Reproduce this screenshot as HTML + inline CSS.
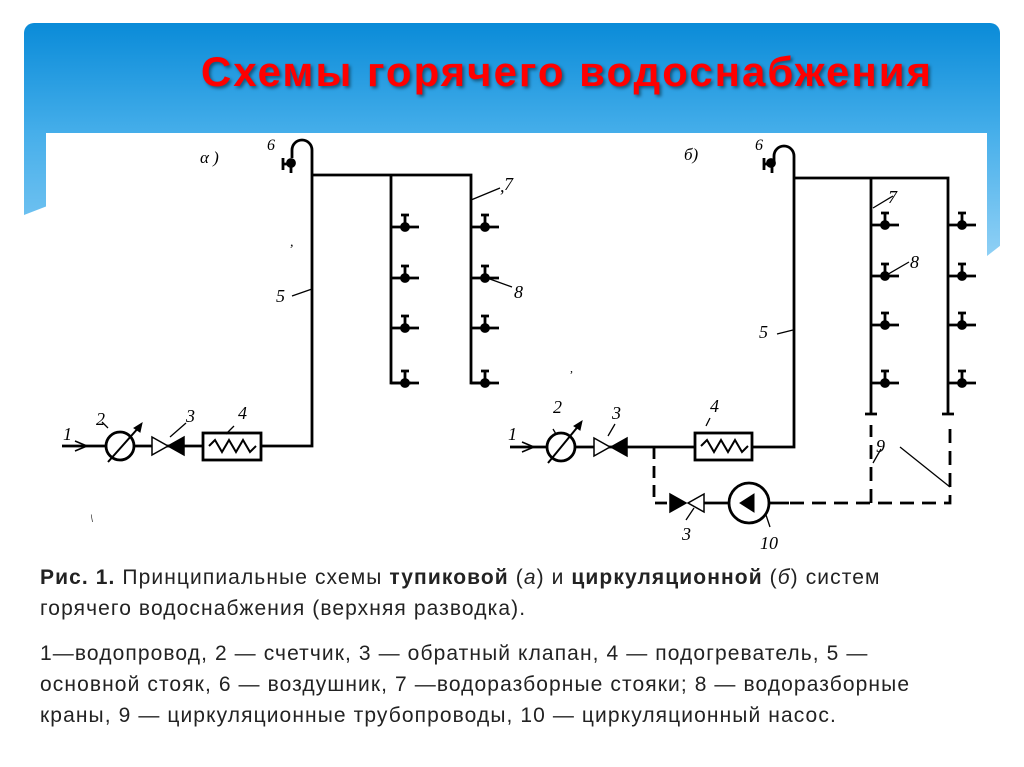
<!DOCTYPE html>
<html><head><meta charset="utf-8"><style>
body{margin:0;width:1024px;height:767px;background:#fff;position:relative;overflow:hidden;font-family:"Liberation Sans","DejaVu Sans",sans-serif}
.bar{position:absolute;left:24px;top:23px;width:976px;height:110px;border-radius:10px 10px 0 0;background:linear-gradient(#0a8bd8,#45aeea)}
.ls{position:absolute;left:24px;top:130px;width:22px;height:85px;background:linear-gradient(#45aeea,#6cc0f0);clip-path:polygon(0 0,100% 0,100% 90%,0 100%)}
.rs{position:absolute;left:987px;top:130px;width:13px;height:126px;background:linear-gradient(#45aeea,#8fd0f5);clip-path:polygon(0 0,100% 0,100% 92%,0 100%)}
h1{position:absolute;left:0;width:1134px;top:48px;margin:0;text-align:center;color:#f00;font-size:42px;letter-spacing:2px;font-weight:bold;text-shadow:2px 2px 3px rgba(0,0,0,.45)}
.cap{position:absolute;left:40px;font-size:21px;letter-spacing:1.1px;color:#222;white-space:nowrap}
svg{position:absolute;left:0;top:0}
</style></head><body>
<div class="bar"></div><div class="ls"></div><div class="rs"></div>
<h1>Схемы горячего водоснабжения</h1>
<svg width="1024" height="767" viewBox="0 0 1024 767" fill="none" stroke="#000" stroke-width="2.8" font-family="Liberation Serif, serif" font-style="italic">
<defs>
<g id="tap"><path d="M0 0h28M14 0v-12M10-12h8"/><circle cx="14" cy="0" r="3.5" fill="#000"/></g>
</defs>
<g>
<path d="M62 446H312V150a10 10 0 0 0-20 0v8"/>
<path d="M312 175H471V383h20M391 175V383h20"/>
<circle cx="291" cy="163" r="3.5" fill="#000"/><path d="M283 158v12M283 164h8M291 163v10"/>
<use href="#tap" x="391" y="227"/><use href="#tap" x="391" y="278"/><use href="#tap" x="391" y="328"/><use href="#tap" x="391" y="383"/>
<use href="#tap" x="471" y="227"/><use href="#tap" x="471" y="278"/><use href="#tap" x="471" y="328"/><use href="#tap" x="471" y="383"/>
<path d="M75 441l12 5-12 5" stroke-width="1.5"/>
<circle cx="120" cy="446" r="14" fill="#fff"/>
<path d="M108 462L140 426" stroke-width="2"/><path d="M134 428l8-5-2 9z" fill="#000" stroke-width="1"/>
<path d="M152 437v18l16-9z" fill="#fff" stroke-width="1.5"/><path d="M184 437v18l-16-9z" fill="#000" stroke-width="1.5"/>
<rect x="203" y="433" width="58" height="27" fill="#fff"/>
<path d="M209 446l6-6 7 12 7-12 7 12 7-12 7 12 6-6" stroke-width="2"/>
<g stroke-width="1.3"><path d="M292 296l20-7M500 188l-29 12M512 287l-25-9M108 428l-6-6M170 437l16-14M226 434l8-8"/></g>
</g>
<g fill="#000" stroke="none" font-size="18">
<text x="200" y="163" font-size="17">α )</text>
<text x="267" y="150" font-size="16">6</text>
<text x="276" y="302">5</text>
<text x="500" y="192">,</text><text x="504" y="190">7</text>
<text x="514" y="298">8</text>
<text x="63" y="440">1</text><text x="96" y="425">2</text><text x="186" y="422">3</text><text x="238" y="419">4</text>
<text x="290" y="246" font-size="14">,</text>
<text x="90" y="522" font-size="12">\</text>
<text x="684" y="160" font-size="17">б)</text>
<text x="755" y="150" font-size="16">6</text>
<text x="759" y="338">5</text>
<text x="888" y="203">7</text>
<text x="910" y="268">8</text>
<text x="508" y="440">1</text><text x="553" y="413">2</text><text x="612" y="419">3</text><text x="710" y="412">4</text>
<text x="876" y="452">9</text>
<text x="682" y="540">3</text><text x="760" y="549">10</text>
<text x="570" y="372" font-size="12">,</text>
</g>
<g>
<path d="M510 447H794V156a10 10 0 0 0-20 0v6"/>
<path d="M794 178H948V414M871 178V414M865 414h12M942 414h12"/>
<circle cx="771" cy="163" r="3.5" fill="#000"/><path d="M764 158v12M764 164h7M772 163v10"/>
<use href="#tap" x="871" y="225"/><use href="#tap" x="871" y="276"/><use href="#tap" x="871" y="325"/><use href="#tap" x="871" y="383"/>
<use href="#tap" x="948" y="225"/><use href="#tap" x="948" y="276"/><use href="#tap" x="948" y="325"/><use href="#tap" x="948" y="383"/>
<path d="M522 442l12 5-12 5" stroke-width="1.5"/>
<circle cx="561" cy="447" r="14" fill="#fff"/>
<path d="M548 463L580 424" stroke-width="2"/><path d="M574 426l8-5-2 9z" fill="#000" stroke-width="1"/>
<path d="M594 438v18l16-9z" fill="#fff" stroke-width="1.5"/><path d="M627 438v18l-16-9z" fill="#000" stroke-width="1.5"/>
<rect x="695" y="433" width="57" height="27" fill="#fff"/>
<path d="M701 446l6-6 7 12 7-12 7 12 7-12 7 12 6-6" stroke-width="2"/>
<path d="M654 447V503H668" stroke-dasharray="12 7"/>
<path d="M670 494v18l16-9z" fill="#000" stroke-width="1.5"/><path d="M704 494v18l-16-9z" fill="#fff" stroke-width="1.5"/>
<path d="M704 503h25"/>
<circle cx="749" cy="503" r="20" fill="#fff"/><path d="M740 503l14-9v18z" fill="#000" stroke-width="1"/>
<path d="M769 503h20"/>
<path d="M790 503H950V425M871 503V425" stroke-dasharray="14 8"/>
<g stroke-width="1.3"><path d="M777 334l16-4M893 196l-20 12M909 262l-24 14M873 463l8-14M900 447l50 40M686 520l8-12M770 527l-4-12M553 429l3 5M615 424l-7 12M710 418l-4 8"/></g>
</g>
</svg>
<div class="cap" style="top:566px"><b>Рис. 1.</b> Принципиальные схемы <b>тупиковой</b> (<i>а</i>) и <b>циркуляционной</b> (<i>б</i>) систем</div>
<div class="cap" style="top:597px">горячего водоснабжения (верхняя разводка).</div>
<div class="cap" style="top:642px">1—водопровод, 2 — счетчик, 3 — обратный клапан, 4 — подогреватель, 5 —</div>
<div class="cap" style="top:673px">основной стояк, 6 — воздушник, 7 —водоразборные стояки; 8 — водоразборные</div>
<div class="cap" style="top:704px">краны, 9 — циркуляционные трубопроводы, 10 — циркуляционный насос.</div>
</body></html>
